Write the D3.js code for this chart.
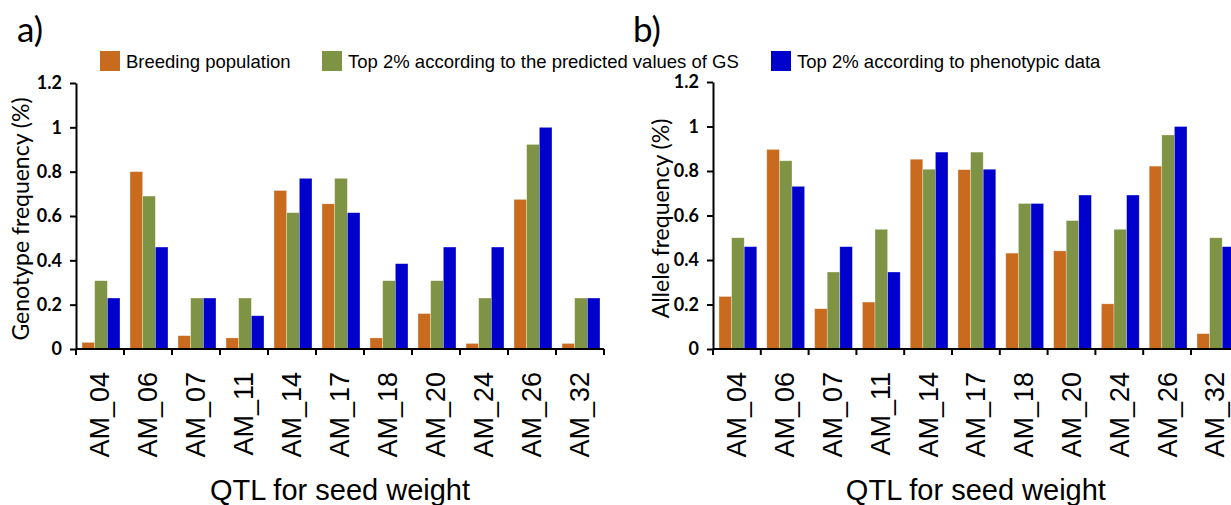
<!DOCTYPE html>
<html>
<head>
<meta charset="utf-8">
<script src="https://cdn.jsdelivr.net/npm/d3@7"></script>
<style>
  body { margin: 0; background: #fff; }
  svg { display: block; }
</style>
</head>
<body>
<div id="chart"></div>
<script>
// QTL categories and series
const qtl = ["AM_04", "AM_06", "AM_07", "AM_11", "AM_14", "AM_17", "AM_18", "AM_20", "AM_24", "AM_26", "AM_32"]
const seriesNames = ["Breeding population", "Top 2% according to the predicted values of GS", "Top 2% according to phenotypic data"]
const seriesColors = ["#c96b1f", "#7f9344", "#0000cc"]

// a) genotype frequency
const genoBreeding = [0.03, 0.80, 0.06, 0.05, 0.715, 0.655, 0.05, 0.16, 0.025, 0.675, 0.025]
const genoGS = [0.308, 0.69, 0.23, 0.23, 0.615, 0.77, 0.308, 0.308, 0.23, 0.923, 0.23]
const genoPheno = [0.23, 0.46, 0.23, 0.15, 0.77, 0.615, 0.385, 0.46, 0.46, 1.0, 0.23]

// b) allele frequency
const alleleBreeding = [0.236, 0.897, 0.181, 0.211, 0.853, 0.806, 0.431, 0.441, 0.203, 0.822, 0.069]
const alleleGS = [0.5, 0.846, 0.346, 0.538, 0.808, 0.885, 0.654, 0.577, 0.538, 0.962, 0.5]
const allelePheno = [0.46, 0.731, 0.46, 0.346, 0.885, 0.808, 0.654, 0.692, 0.692, 1.0, 0.46]

const yTicks = [0, 0.2, 0.4, 0.6, 0.8, 1, 1.2]
const yTickLabels = ["0", "0.2", "0.4", "0.6", "0.8", "1", "1.2"]

let width = 1231
let height = 505

const svg = d3.select("#chart")
            .append("svg")
            .attr("width", width)
            .attr("height", height)

/**
 * Draw one grouped bar panel
 */
function drawPanel(opts) {
    let g = svg.append("g")

    let x0 = d3.scaleBand()
               .domain(qtl)
               .range([opts.left, opts.left + opts.step * qtl.length])
    let x1 = d3.scaleBand()
               .domain(d3.range(3))
               .range([6, opts.step - 4])
    let y = d3.scaleLinear()
              .domain([0, 1.2])
              .range([opts.bottom, opts.top])

    let rows = qtl.map((q, i) => ({ q: q, vals: opts.series.map(s => s[i]) }))

    // bars
    g.selectAll(".grp")
     .data(rows)
     .enter()
     .append("g")
     .attr("transform", d => `translate(${x0(d.q)},0)`)
     .selectAll("rect")
     .data(d => d.vals)
     .enter()
     .append("rect")
     .attr("x", (d, i) => x1(i))
     .attr("width", x1.bandwidth())
     .attr("y", d => y(d))
     .attr("height", d => y(0) - y(d))
     .attr("fill", (d, i) => seriesColors[i])
     .attr("stroke", "rgba(255,255,255,0.5)")
     .attr("stroke-width", 0.6)

    // y axis
    let yAxis = d3.axisLeft(y)
                  .tickValues(yTicks)
                  .tickFormat((d, i) => yTickLabels[i])
                  .tickSize(6)
                  .tickSizeOuter(0)
                  .tickPadding(8)
    let ya = g.append("g")
              .attr("transform", `translate(${opts.left},0)`)
              .call(yAxis)
    ya.selectAll("path, line").attr("stroke", "#000").attr("stroke-width", 2)
    ya.selectAll("text")
      .attr("font-family", "Lato, 'Open Sans', sans-serif")
      .attr("font-weight", "bold")
      .attr("font-size", 18)
      .attr("fill", "#000")

    // x axis: line, boundary ticks, rotated labels
    let xEnd = opts.left + opts.step * qtl.length
    g.append("line")
     .attr("x1", opts.left).attr("x2", xEnd)
     .attr("y1", opts.bottom).attr("y2", opts.bottom)
     .attr("stroke", "#000").attr("stroke-width", 2)
    g.selectAll(".xtick")
     .data(qtl.map(q => x0(q)).concat([xEnd]))
     .enter()
     .append("line")
     .attr("x1", d => d).attr("x2", d => d)
     .attr("y1", opts.bottom).attr("y2", opts.bottom + 6)
     .attr("stroke", "#000").attr("stroke-width", 2)
    g.selectAll(".xlab")
     .data(qtl)
     .enter()
     .append("text")
     .attr("transform", d => `translate(${x0(d) + opts.step / 2},372) rotate(-90)`)
     .attr("text-anchor", "end")
     .attr("dy", "0.35em")
     .attr("font-family", "'Liberation Sans', Arial, sans-serif")
     .attr("font-size", 27)
     .text(d => d)

    // axis titles
    g.append("text")
     .attr("transform", `translate(${opts.titleX},${(opts.top + opts.bottom) / 2 + 3}) rotate(-90)`)
     .attr("text-anchor", "middle")
     .attr("dy", "0.35em")
     .attr("font-family", "Lato, 'Open Sans', sans-serif")
     .attr("font-size", 23)
     .text(opts.yTitle)

    g.append("text")
     .attr("x", (opts.left + xEnd) / 2)
     .attr("y", 500)
     .attr("text-anchor", "middle")
     .attr("font-family", "'Liberation Sans', Arial, sans-serif")
     .attr("font-size", 29)
     .text("QTL for seed weight")

    g.append("text")
     .attr("x", opts.tagX)
     .attr("y", 42)
     .attr("font-family", "Lato, 'Open Sans', sans-serif")
     .attr("font-size", 35)
     .text(opts.tag)
}

drawPanel({ left: 76, top: 83, bottom: 349, step: 48, series: [genoBreeding, genoGS, genoPheno],
            yTitle: "Genotype frequency (%)", titleX: 21, tag: "a)", tagX: 17 })
drawPanel({ left: 713, top: 82, bottom: 349, step: 47.8, series: [alleleBreeding, alleleGS, allelePheno],
            yTitle: "Allele frequency (%)", titleX: 661, tag: "b)", tagX: 633 })

// legend
let legendX = [100, 322, 771]
let legend = svg.append("g").attr("id", "legend")
let items = legend.selectAll("g")
                  .data(seriesNames)
                  .enter()
                  .append("g")
                  .attr("transform", (d, i) => `translate(${legendX[i]},51)`)
items.append("rect")
     .attr("width", 20)
     .attr("height", 20)
     .attr("fill", (d, i) => seriesColors[i])
items.append("text")
     .attr("x", 26)
     .attr("y", 17)
     .attr("font-family", "'Liberation Sans', Arial, sans-serif")
     .attr("font-size", 18.5)
     .text(d => d)
</script>
</body>
</html>
